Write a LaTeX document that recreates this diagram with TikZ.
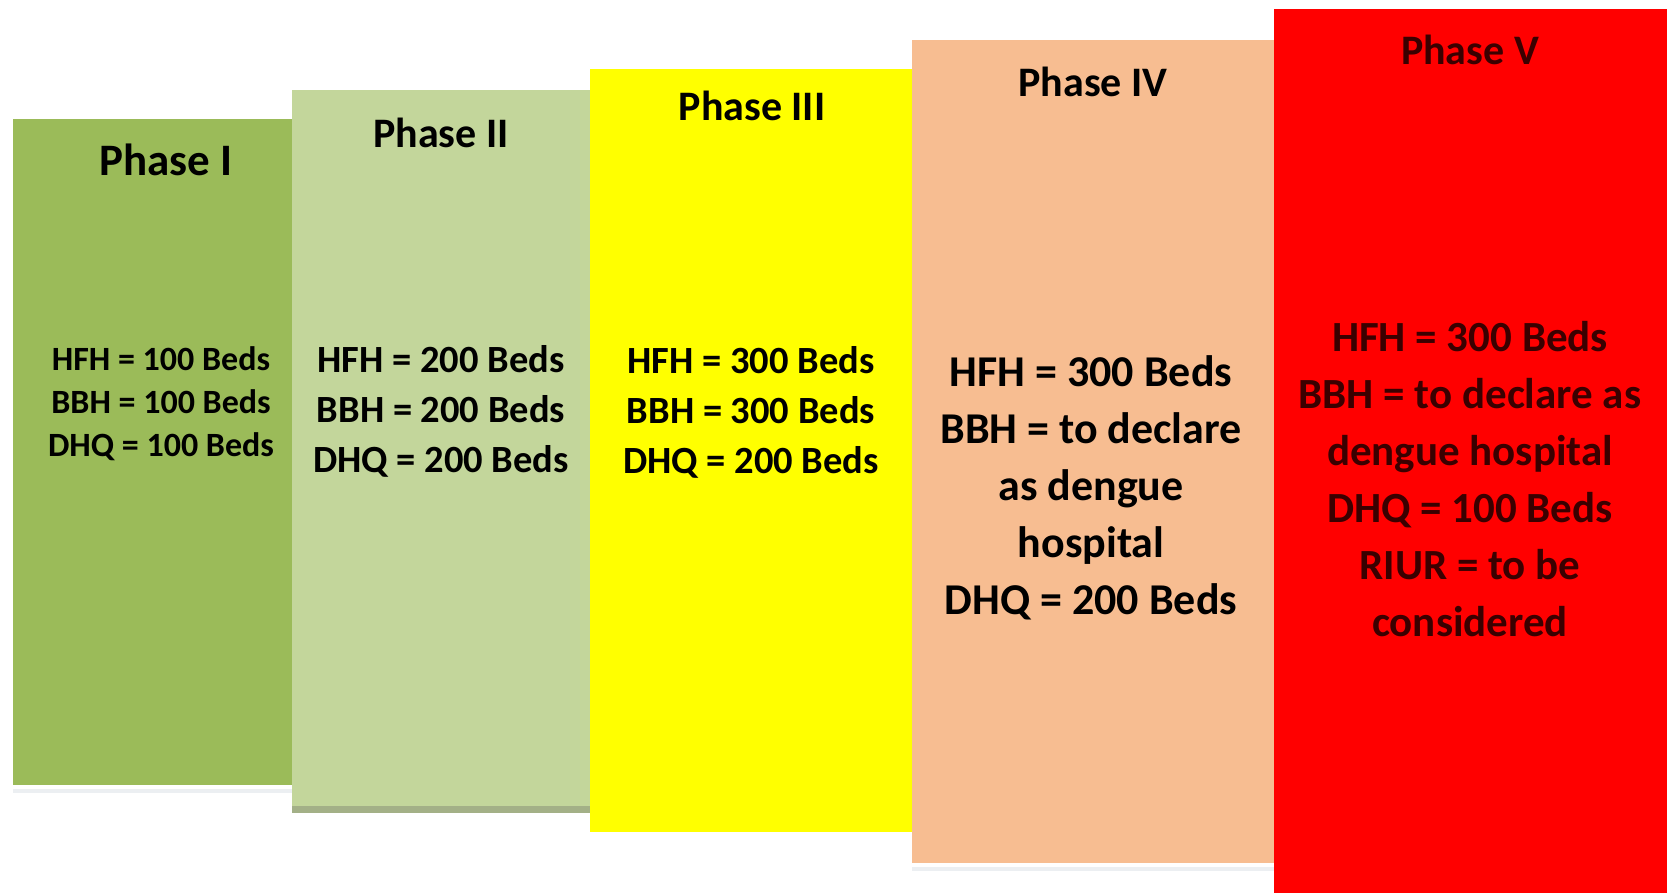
\documentclass[tikz,border=0pt]{standalone}
\usepackage{fontspec}
\setmainfont{Carlito}
\definecolor{cI}{HTML}{9BBB59}
\definecolor{cII}{HTML}{C3D69B}
\definecolor{cIIb}{HTML}{A3B087}
\definecolor{cIII}{HTML}{FFFF00}
\definecolor{cIV}{HTML}{F7BD91}
\definecolor{cV}{HTML}{FF0000}
\definecolor{txtV}{HTML}{3A0000}
\definecolor{refl}{HTML}{ECEFF2}
\tikzset{
  phasebox/.style={draw=none, inner sep=0pt, anchor=north west},
  phtitle/.style={font=\bfseries\fontsize{42}{50}\selectfont, inner sep=0pt, anchor=center},
  phbody/.style={align=center, inner sep=0pt, anchor=center},
}
\begin{document}
\begin{tikzpicture}[x=1pt,y=-1pt]
\useasboundingbox (0,0) rectangle (1667,893);
\fill[white] (0,0) rectangle (1667,893);
% reflections
\fill[refl] (13,789) rectangle (292,793);
\fill[refl] (912,867) rectangle (1274,871);
% boxes
\node[phasebox, fill=cI, minimum width=279pt, minimum height=666pt] (b1) at (13,119) {};
\node[phasebox, fill=cII, minimum width=298pt, minimum height=723pt] (b2) at (292,90) {};
\fill[cIIb] (292,806) rectangle (590,813);
\node[phasebox, fill=cIII, minimum width=322pt, minimum height=763pt] (b3) at (590,69) {};
\node[phasebox, fill=cIV, minimum width=362pt, minimum height=823pt] (b4) at (912,40) {};
\node[phasebox, fill=cV, minimum width=393pt, minimum height=884pt] (b5) at (1274,9) {};
% titles
\node[phtitle, font=\bfseries\fontsize{45}{50}\selectfont] (t1) at (166,160) {Phase I};
\node[phtitle] (t2) at (441,133) {Phase II};
\node[phtitle] (t3) at (752,106) {Phase III};
\node[phtitle] (t4) at (1093,82) {Phase IV};
\node[phtitle, text=txtV] (t5) at (1470,50) {Phase V};
% bodies
\node[phbody, font=\bfseries\fontsize{34}{43}\selectfont] (d1) at (161,404) {HFH = 100 Beds\\BBH = 100 Beds\\DHQ = 100 Beds};
\node[phbody, font=\bfseries\fontsize{38.5}{50}\selectfont] (d2) at (441,411) {HFH = 200 Beds\\BBH = 200 Beds\\DHQ = 200 Beds};
\node[phbody, font=\bfseries\fontsize{38.5}{50}\selectfont] (d3) at (751,412) {HFH = 300 Beds\\BBH = 300 Beds\\DHQ = 200 Beds};
\node[phbody, font=\bfseries\fontsize{44}{57}\selectfont] (d4) at (1091,488) {HFH = 300 Beds\\BBH = to declare\\as dengue\\hospital\\DHQ = 200 Beds};
\node[phbody, text=txtV, font=\bfseries\fontsize{43}{57}\selectfont] (d5) at (1470,479) {HFH = 300 Beds\\BBH = to declare as\\dengue hospital\\DHQ = 100 Beds\\RIUR = to be\\considered};
\end{tikzpicture}
\end{document}
